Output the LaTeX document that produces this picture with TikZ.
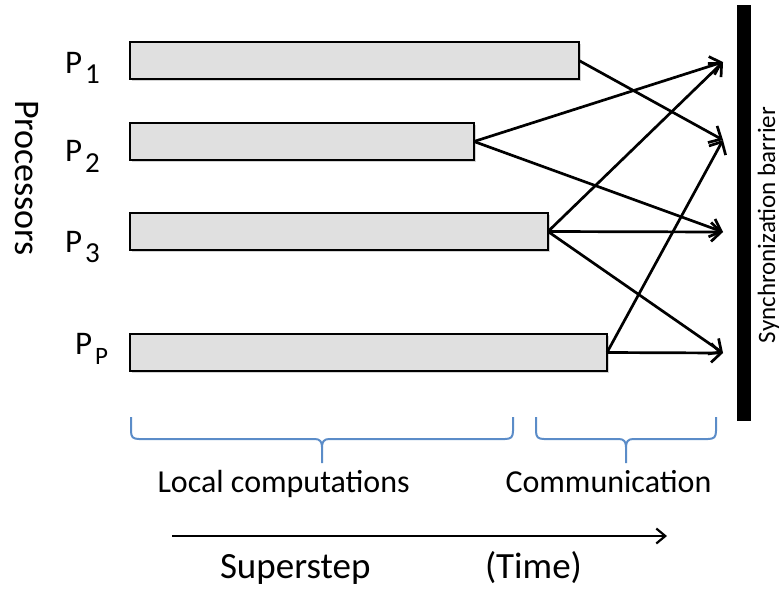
\documentclass[tikz,border=0pt]{standalone}
\usepackage{fontspec}
\setmainfont{Carlito}
\usetikzlibrary{arrows.meta,shadows}
\definecolor{barfill}{HTML}{E0E0E0}
\definecolor{bracecol}{HTML}{5B8CC8}
\begin{document}
\begin{tikzpicture}[x=1pt,y=-1pt,
  procbar/.style={draw=black, line width=1.5pt, fill=barfill, inner sep=0pt, outer sep=0pt,
    anchor=north west, minimum height=37pt,
    drop shadow={shadow xshift=1.5pt, shadow yshift=-1.5pt, opacity=0.35, fill=gray}},
  msg/.style={line width=2.7pt, -{Straight Barb[length=10pt,width=19pt]}},
  timearrow/.style={line width=2.2pt, -{Straight Barb[length=9pt,width=15pt]}},
  bracepath/.style={draw=bracecol, line width=2pt, line join=round},
  lbl/.style={inner sep=0pt, outer sep=0pt, anchor=base west},
  pmain/.style={lbl, font=\fontsize{33}{38}\selectfont},
  psub/.style={lbl, font=\fontsize{29}{34}\selectfont},
  psubsmall/.style={lbl, font=\fontsize{25}{30}\selectfont},
  midtext/.style={lbl, font=\fontsize{32}{36}\selectfont},
  bigtext/.style={lbl, font=\fontsize{37}{42}\selectfont}
]
\useasboundingbox (0,0) rectangle (781,590);

% processor bars
\node[procbar, minimum width=449pt] (b1) at (130,42) {};
\node[procbar, minimum width=344pt] (b2) at (130,123) {};
\node[procbar, minimum width=418pt] (b3) at (130,213) {};
\node[procbar, minimum width=477pt] (b4) at (130,334) {};

% processor labels
\node[pmain] (p1) at (65,73) {P};
\node[psub] (p1s) at (85,83) {1};
\node[pmain] (p2) at (65,161) {P};
\node[psub] (p2s) at (85,172) {2};
\node[pmain] (p3) at (65,252) {P};
\node[psub] (p3s) at (85,262) {3};
\node[pmain] (p4) at (75,354) {P};
\node[psubsmall] (p4s) at (95,364) {P};

\node[inner sep=0pt, anchor=base, rotate=-90, font=\fontsize{36}{40}\selectfont] (proc) at (15,178) {Processors};

% synchronization barrier
\node[fill=black, inner sep=0pt, outer sep=0pt, anchor=north west,
      minimum width=14pt, minimum height=416pt] (barrier) at (737,5) {};
\node[inner sep=0pt, anchor=base, rotate=90, font=\fontsize{25}{29}\selectfont] (synclbl) at (775,225) {Synchronization barrier};

% arrival points at the barrier
\coordinate (t1) at (723,62);
\coordinate (t2) at (723,140);
\coordinate (t3) at (723,232);
\coordinate (t4) at (723,353);

% messages
\draw[msg] (b1.east) -- (t2);
\draw[msg] (b2.east) -- (t1);
\draw[msg] (b2.east) -- (t3);
\draw[msg] (b3.east) -- (t1);
\draw[msg] (b3.east) -- (t3);
\draw[msg] (b3.east) -- (t4);
\draw[msg] (b4.east) -- (t2);
\draw[msg] (b4.east) -- (t4);

% braces
\draw[bracepath] (131,417) -- (131,431) .. controls (131,437) and (133,439) .. (139,439)
  -- (315,439) .. controls (320,439) and (322,442) .. (322,447) -- (322,463);
\draw[bracepath] (322,447) .. controls (322,442) and (324,439) .. (329,439)
  -- (505,439) .. controls (511,439) and (513,437) .. (513,431) -- (513,417);
\draw[bracepath] (536,417) -- (536,431) .. controls (536,437) and (538,439) .. (544,439)
  -- (619,439) .. controls (624,439) and (626,442) .. (626,447) -- (626,463);
\draw[bracepath] (626,447) .. controls (626,442) and (628,439) .. (633,439)
  -- (708,439) .. controls (714,439) and (716,437) .. (716,431) -- (716,417);

\node[midtext] (local) at (157.5,492) {Local computations};
\node[midtext] (comm) at (505.5,492) {Communication};

% time axis
\coordinate (ts) at (172,536);
\coordinate (te) at (667,536);
\draw[timearrow] (ts) -- (te);
\node[bigtext] (sstep) at (220,578) {Superstep};
\node[bigtext] (time) at (485,578) {(Time)};
\end{tikzpicture}
\end{document}
